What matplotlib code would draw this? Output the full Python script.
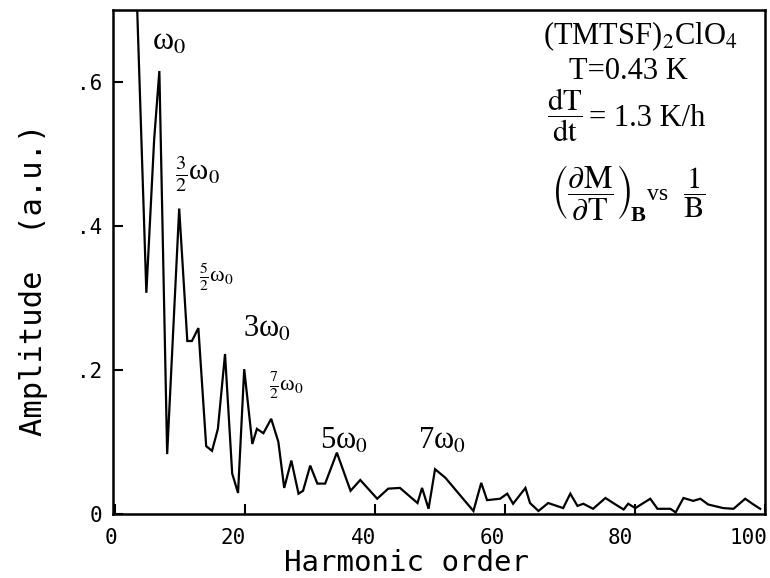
import numpy as np
import matplotlib
matplotlib.use("Agg")
import matplotlib.pyplot as plt
from matplotlib.transforms import ScaledTranslation

plt.rcParams["mathtext.fontset"] = "stix"

# harmonic order vs amplitude
harmonic = [3.0, 4.8, 6.0, 6.8, 8.0, 9.85, 11.1, 11.8, 12.8, 14.0, 14.9, 15.8,
            16.9, 18.0, 18.9, 19.85, 21.1, 21.8, 22.8, 24.0, 25.1, 26.0, 27.1,
            28.2, 28.9, 30.0, 31.1, 32.3, 34.1, 36.2, 37.7, 40.3, 42.0, 43.8,
            46.5, 47.2, 48.2, 49.2, 50.8, 53.5, 55.1, 56.3, 57.2, 59.2, 60.3,
            61.2, 63.1, 63.8, 65.1, 66.6, 68.9, 70.0, 71.1, 72.0, 73.5, 75.4,
            76.6, 78.2, 78.9, 80.0, 82.3, 83.4, 85.4, 86.2, 87.4, 88.9, 90.0,
            91.2, 93.5, 95.1, 96.9, 98.0, 99.2]
amplitude = [0.81, 0.307, 0.52, 0.615, 0.083, 0.424, 0.24, 0.24, 0.258, 0.094,
             0.0875, 0.118, 0.222, 0.056, 0.029, 0.201, 0.097, 0.118, 0.112,
             0.132, 0.10, 0.036, 0.074, 0.028, 0.032, 0.067, 0.042, 0.042,
             0.085, 0.032, 0.047, 0.021, 0.035, 0.036, 0.015, 0.036, 0.007,
             0.062, 0.05, 0.021, 0.004, 0.043, 0.019, 0.021, 0.028, 0.014,
             0.036, 0.015, 0.004, 0.015, 0.008, 0.028, 0.011, 0.014, 0.007,
             0.022, 0.015, 0.006, 0.014, 0.008, 0.021, 0.007, 0.007, 0.002,
             0.022, 0.018, 0.021, 0.013, 0.008, 0.007, 0.021, 0.014, 0.007]

xticks = [0, 20, 40, 60, 80, 100]
yticks = [0, 0.2, 0.4, 0.6]
ytick_labels = ["0", ".2", ".4", ".6"]

peak_labels = ["ω$_0$", r"$\frac{3}{2}$ω$_0$", r"$\frac{5}{2}$ω$_0$",
               "3ω$_0$", r"$\frac{7}{2}$ω$_0$", "5ω$_0$", "7ω$_0$"]
peak_x = [5.6, 9.2, 12.9, 19.6, 23.6, 31.5, 46.6]
peak_y = [0.655, 0.472, 0.329, 0.257, 0.178, 0.101, 0.101]
peak_size = [23, 21, 16, 22, 16, 22, 22]

fig = plt.figure(figsize=(7.7, 5.78), dpi=100)
ax = fig.add_axes([0.147, 0.111, 0.847, 0.872])

ax.plot(harmonic, amplitude, color="black", lw=1.6, solid_joinstyle="miter")
ax.set_xlim(-0.3, 100)
ax.set_ylim(0, 0.7)

mono = "DejaVu Sans Mono"
serif = "Liberation Serif"

ax.set_xticks(xticks)
ax.set_xticklabels([str(t) for t in xticks], family=mono, fontsize=15)
ax.set_yticks(yticks)
ax.set_yticklabels(ytick_labels, family=mono, fontsize=15)
ax.tick_params(direction="in", length=7, width=1.5, pad=8)
ax.tick_params(axis="x", pad=10)
# the scanned labels sit a little left of their ticks
shifts = [-4, -12, -12, -13, -15, -17]
for lab, dx in zip(ax.get_xticklabels(), shifts):
    lab.set_transform(lab.get_transform() + ScaledTranslation(dx / 100, 0, fig.dpi_scale_trans))
for sp in ax.spines.values():
    sp.set_linewidth(1.8)

ax.set_xlabel("Harmonic order", family=mono, fontsize=21)
ax.xaxis.set_label_coords(0.449, -0.070)
ax.set_ylabel("Amplitude  (a.u.)", family=mono, fontsize=22)
ax.yaxis.set_label_coords(-0.100, 0.464)

for lab, x, y, s in zip(peak_labels, peak_x, peak_y, peak_size):
    ax.text(x, y, lab, fontsize=s, ha="left", va="center", family=serif)

ax.text(0.808, 0.948, r"(TMTSF)$_2$ClO$_4$", transform=ax.transAxes,
        ha="center", va="center", family=serif, fontsize=22)
ax.text(0.790, 0.877, "T=0.43 K", transform=ax.transAxes,
        ha="center", va="center", family=serif, fontsize=22)
ax.text(0.665, 0.790, r"$\dfrac{\mathrm{dT}}{\mathrm{dt}}$", transform=ax.transAxes,
        ha="left", va="center", family=serif, fontsize=22)
ax.text(0.730, 0.785, "= 1.3 K/h", transform=ax.transAxes,
        ha="left", va="center", family=serif, fontsize=22)
ax.text(0.672, 0.637,
        r"$\left(\dfrac{\partial\mathrm{M}}{\partial\mathrm{T}}\right)$",
        transform=ax.transAxes, ha="left", va="center", family=serif, fontsize=23)
ax.text(0.794, 0.590, "B", transform=ax.transAxes, ha="left", va="center",
        family=serif, fontsize=16, fontweight="bold")
ax.text(0.818, 0.634, "vs", transform=ax.transAxes,
        ha="left", va="center", family=serif, fontsize=17)
ax.text(0.874, 0.637, r"$\dfrac{1}{\mathrm{B}}$", transform=ax.transAxes,
        ha="left", va="center", family=serif, fontsize=22)

fig.savefig("out.png", dpi=100)
